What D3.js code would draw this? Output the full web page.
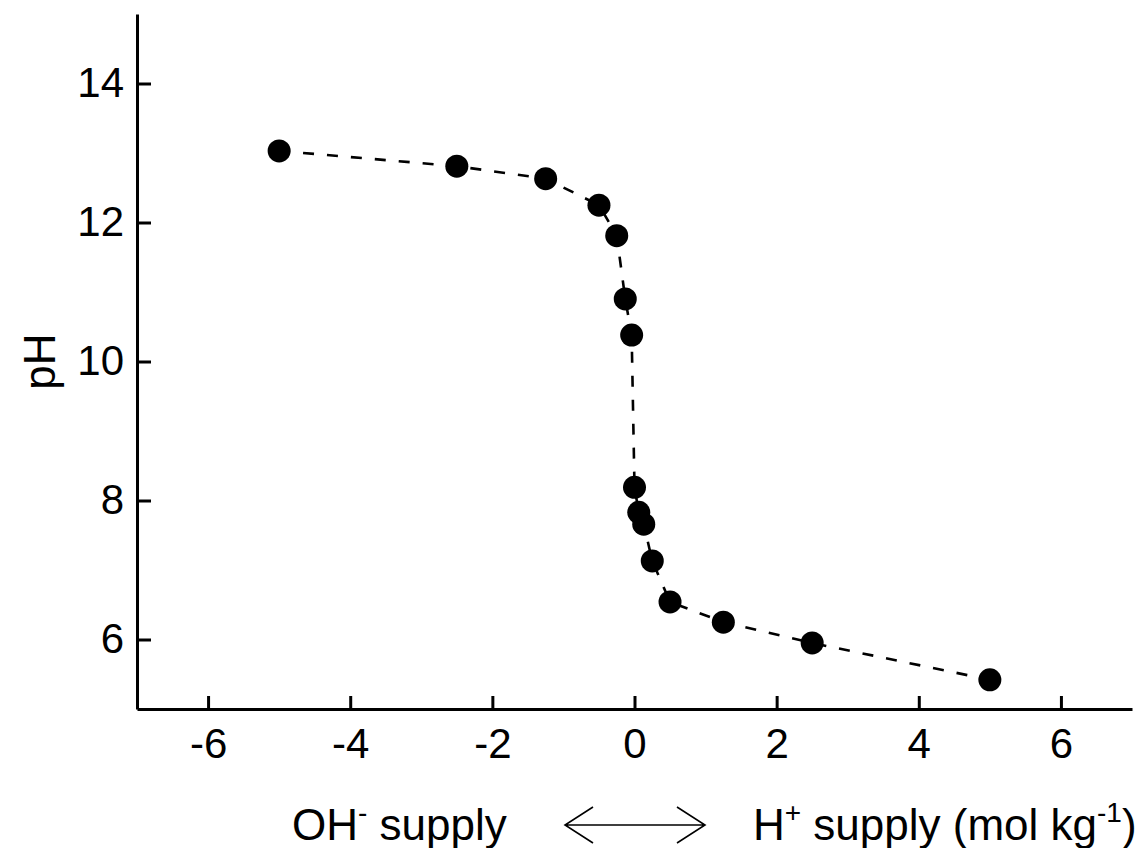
<!DOCTYPE html>
<meta charset="utf-8">
<head>
  <title>pH titration curve</title>
  <style>
    body { margin: 0; background: #fff; }
    text { font-family: "Liberation Sans", Arial, sans-serif; }
  </style>
</head>
<body>
  <script src="https://d3js.org/d3.v7.min.js"></script>
  <div id="my_dataviz"></div>
  <script>
    // data
    var supply = [-5, -2.5, -1.25, -0.5, -0.25, -0.13, -0.04, 0, 0.06, 0.13, 0.25, 0.5, 1.25, 2.5, 5];
    var pH = [13.03, 12.81, 12.63, 12.25, 11.81, 10.9, 10.38, 8.19, 7.83, 7.66, 7.13, 6.54, 6.25, 5.95, 5.42];
    var xTicks = [-6, -4, -2, 0, 2, 4, 6];
    var yTicks = [6, 8, 10, 12, 14];

    var W = 1139, H = 848;
    var margin = {top: 14, right: 7, bottom: 139, left: 137},
        width = W - margin.left - margin.right,
        height = H - margin.top - margin.bottom;

    var svg = d3.select("#my_dataviz")
      .append("svg")
        .attr("width", W)
        .attr("height", H)
      .append("g")
        .attr("transform", "translate(" + margin.left + "," + margin.top + ")");

    var x = d3.scaleLinear().domain([-7, 7]).range([0, width]);
    var y = d3.scaleLinear().domain([5, 15]).range([height, 0]);

    // plain hyphen for negatives, like the original
    var fmt = function(d) { return String(d); };

    // axes, ticks pointing inwards
    var xAxis = svg.append("g")
      .attr("transform", "translate(0," + height + ")")
      .call(d3.axisBottom(x).tickValues(xTicks).tickFormat(fmt).tickSizeInner(-13).tickSizeOuter(0).tickPadding(19));
    var yAxis = svg.append("g")
      .call(d3.axisLeft(y).tickValues(yTicks).tickFormat(fmt).tickSizeInner(-14).tickSizeOuter(0).tickPadding(13));

    [xAxis, yAxis].forEach(function(a) {
      a.attr("font-size", 42).attr("font-family", "Liberation Sans, Arial, sans-serif");
      a.selectAll("path, line").attr("stroke", "#000").attr("stroke-width", 3);
      a.selectAll("text").attr("fill", "#000");
    });

    var pts = supply.map(function(d, i) { return {x: d, y: pH[i]}; });

    // dashed connecting line
    svg.append("path")
      .datum(pts)
      .attr("fill", "none")
      .attr("stroke", "#000")
      .attr("stroke-width", 2.6)
      .attr("stroke-dasharray", "11,13")
      .attr("d", d3.line()
        .x(function(d) { return x(d.x); })
        .y(function(d) { return y(d.y); }));

    svg.selectAll("circle")
      .data(pts)
      .enter()
      .append("circle")
        .attr("cx", function(d) { return x(d.x); })
        .attr("cy", function(d) { return y(d.y); })
        .attr("r", 11.5)
        .attr("fill", "#000");

    // y label
    svg.append("text")
      .attr("transform", "translate(" + (-82) + "," + (height / 2) + ") rotate(-90)")
      .attr("text-anchor", "middle")
      .attr("font-size", 44)
      .text("pH");

    // x label: OH- supply <--> H+ supply (mol kg-1)
    var lab = svg.append("g").attr("transform", "translate(0," + (height + 131) + ")");
    var t1 = lab.append("text").attr("x", 155).attr("font-size", 44);
    t1.append("tspan").text("OH");
    t1.append("tspan").attr("dy", -18).attr("font-size", 28).text("-");
    t1.append("tspan").attr("dy", 18).text(" supply");

    var t2 = lab.append("text").attr("x", 616).attr("font-size", 44);
    t2.append("tspan").text("H");
    t2.append("tspan").attr("dy", -18).attr("font-size", 28).text("+");
    t2.append("tspan").attr("dy", 18).text(" supply (mol kg");
    t2.append("tspan").attr("dy", -18).attr("font-size", 28).text("-1");
    t2.append("tspan").attr("dy", 18).text(")");

    // double arrow
    var ax0 = 428, ax1 = 568, ay = -15;
    lab.append("path")
      .attr("fill", "none")
      .attr("stroke", "#000")
      .attr("stroke-width", 1.6)
      .attr("d", "M" + ax0 + "," + ay + "H" + ax1 +
        "M" + (ax0 + 28) + "," + (ay - 18) + "L" + ax0 + "," + ay + "L" + (ax0 + 28) + "," + (ay + 18) +
        "M" + (ax1 - 28) + "," + (ay - 18) + "L" + ax1 + "," + ay + "L" + (ax1 - 28) + "," + (ay + 18));
  </script>
</body>
